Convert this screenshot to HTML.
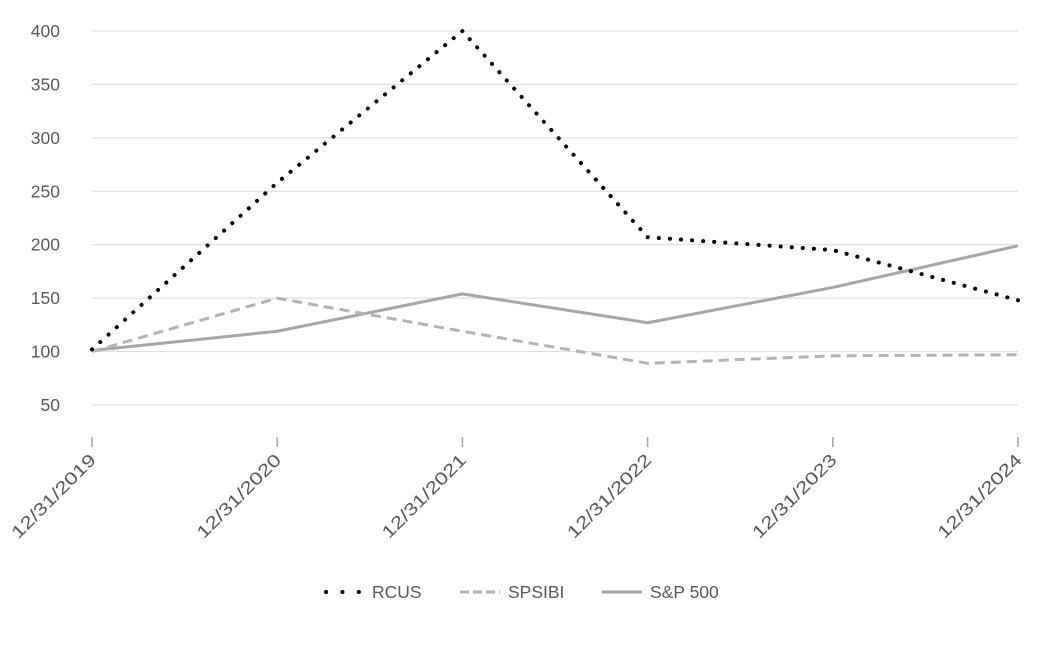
<!DOCTYPE html>
<html><head><meta charset="utf-8"><style>
body{margin:0;background:#fff;font-family:"Liberation Sans",sans-serif}
svg text{font-family:"Liberation Sans",sans-serif;fill:#595959;font-size:17.5px}
</style></head><body>
<svg id="c" width="1048" height="640"></svg>
<script>
const categories=["12/31/2019","12/31/2020","12/31/2021","12/31/2022","12/31/2023","12/31/2024"];
const rcus=[102,258,400,207,195,148];
const spsibi=[100,150,119,89,96,97];
const sp500=[101,119,154,127,160,199];
const yTicks=[50,100,150,200,250,300,350,400];
const svg=document.getElementById('c');const NS='http://www.w3.org/2000/svg';
const x0=92,x1=1018;
const X=i=>x0+i*(x1-x0)/(categories.length-1);
const Y=v=>405-(v-50)*(374/350);
function mk(t,a,p){const e=document.createElementNS(NS,t);for(const k in a)e.setAttribute(k,a[k]);(p||svg).appendChild(e);return e;}
yTicks.forEach(v=>{
 const g=mk('line',{x1:x0,x2:x1,y1:Y(v),y2:Y(v),stroke:'#d9d9d9','stroke-width':1});
 
 
 const t=mk('text',{x:60,y:Y(v)+6,'text-anchor':'end'});t.textContent=v;
 
 
});
categories.forEach((c,i)=>{
 const tk=mk('line',{x1:X(i),x2:X(i),y1:437,y2:447,stroke:'#a6a6a6','stroke-width':1.5});
 
 
 const t=mk('text',{x:X(i)+5,y:461,'text-anchor':'end','font-size':'19.5px',textLength:111,lengthAdjust:'spacingAndGlyphs',transform:`rotate(-45 ${X(i)+5} 461)`});t.textContent=c;
 
 
});
function line(d,stroke,dash,w,cap,name){
 const p=mk('polyline',{points:d.map((v,i)=>X(i)+','+Y(v)).join(' '),fill:'none',stroke:stroke,'stroke-width':w,'stroke-dasharray':dash,'stroke-linecap':cap,'stroke-linejoin':'round'});
 
 
}
line(sp500,'#a6a6a6','none',3,'butt','sp500-line');
line(spsibi,'#b3b3b3','10 6',3,'butt','spsibi-line');
line(rcus,'#000','0.1 11',4,'round','rcus-line');
const lg=mk('g',{});
mk('line',{x1:326,x2:359,y1:592,y2:592,stroke:'#000','stroke-width':4,'stroke-dasharray':'0.1 16.3','stroke-linecap':'round'},lg);
let t=mk('text',{x:372,y:598},lg);t.textContent='RCUS';
mk('line',{x1:460,x2:500,y1:592,y2:592,stroke:'#b3b3b3','stroke-width':3,'stroke-dasharray':'9 4'},lg);
t=mk('text',{x:508,y:598},lg);t.textContent='SPSIBI';
mk('line',{x1:602,x2:642,y1:592,y2:592,stroke:'#a6a6a6','stroke-width':3},lg);
t=mk('text',{x:650,y:598},lg);t.textContent='S&P 500';
</script>
</body></html>
